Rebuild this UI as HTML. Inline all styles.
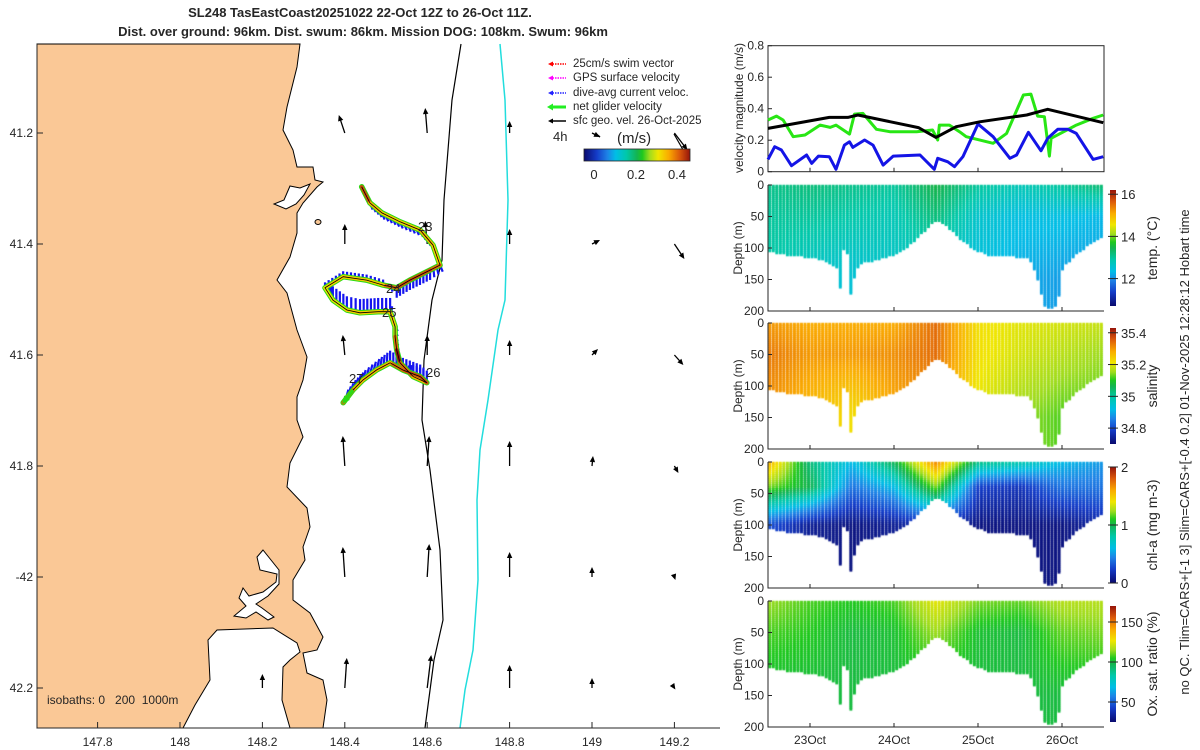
<!DOCTYPE html>
<html><head><meta charset="utf-8"><style>
body{margin:0;background:#fff;}
#root{position:relative;width:1200px;height:750px;overflow:hidden;font-family:"Liberation Sans","DejaVu Sans",sans-serif;}
svg text{font-family:"Liberation Sans","DejaVu Sans",sans-serif;fill:#262626;}
</style></head><body>
<div id="root">
<canvas id="dots" width="1200" height="750" style="position:absolute;left:0;top:0"></canvas>
<svg id="svg" width="1200" height="750" style="position:absolute;left:0;top:0" xmlns="http://www.w3.org/2000/svg">
<defs>
<linearGradient id="jetH" x1="0" x2="1" y1="0" y2="0">
<stop offset="0" stop-color="rgb(10,10,110)"/><stop offset="0.12" stop-color="rgb(20,60,200)"/><stop offset="0.22" stop-color="rgb(30,130,230)"/><stop offset="0.3" stop-color="rgb(0,190,230)"/><stop offset="0.4" stop-color="rgb(0,200,170)"/><stop offset="0.5" stop-color="rgb(20,180,80)"/><stop offset="0.55" stop-color="rgb(30,200,30)"/><stop offset="0.62" stop-color="rgb(160,220,30)"/><stop offset="0.7" stop-color="rgb(240,230,0)"/><stop offset="0.8" stop-color="rgb(250,170,0)"/><stop offset="0.9" stop-color="rgb(220,90,10)"/><stop offset="1" stop-color="rgb(150,20,10)"/>
</linearGradient>
<linearGradient id="jetV" x1="0" x2="0" y1="1" y2="0">
<stop offset="0" stop-color="rgb(10,10,110)"/><stop offset="0.12" stop-color="rgb(20,60,200)"/><stop offset="0.22" stop-color="rgb(30,130,230)"/><stop offset="0.3" stop-color="rgb(0,190,230)"/><stop offset="0.4" stop-color="rgb(0,200,170)"/><stop offset="0.5" stop-color="rgb(20,180,80)"/><stop offset="0.55" stop-color="rgb(30,200,30)"/><stop offset="0.62" stop-color="rgb(160,220,30)"/><stop offset="0.7" stop-color="rgb(240,230,0)"/><stop offset="0.8" stop-color="rgb(250,170,0)"/><stop offset="0.9" stop-color="rgb(220,90,10)"/><stop offset="1" stop-color="rgb(150,20,10)"/>
</linearGradient>
</defs>
<text x="360" y="17" text-anchor="middle" font-size="13" font-weight="bold">SL248 TasEastCoast20251022 22-Oct 12Z to 26-Oct 11Z.</text>
<text x="363" y="36" text-anchor="middle" font-size="13" font-weight="bold">Dist. over ground: 96km. Dist. swum: 86km. Mission DOG: 108km. Swum: 96km</text>
<g>
<polygon fill="#fac896" stroke="#000" stroke-width="1" points="37,44 300,44 297,67 287,107 283,130 293,150 297,167 313,167 315,180 323,182 317,187 303,203 297,213 297,233 290,257 277,280 287,293 297,330 307,357 303,380 297,397 297,420 303,437 290,463 287,487 307,508 310,527 303,547 305,560 293,580 293,600 310,613 323,637 317,650 303,653 307,673 323,680 327,700 323,728 37,728"/>
<polygon fill="#fff" stroke="#000" stroke-width="1" points="183,728 195,705 210,680 208,640 217,630 273,628 297,643 300,652 290,660 283,667 282,700 290,728"/>
<polygon fill="#fff" stroke="#000" stroke-width="1" points="263,550 257,557 260,570 277,574 276,582 263,592 249,596 243,588 239,598 246,606 234,616 246,618 256,612 268,620 274,617 262,608 256,604 268,596 279,584 279,570"/>
<polygon fill="#fff" stroke="#000" stroke-width="1" points="290,186 300,188 310,184 304,195 296,204 286,209 274,204 284,200"/>
<ellipse cx="318" cy="222" rx="3" ry="2.5" fill="#fac896" stroke="#000"/>
</g>
<polyline fill="none" stroke="#000" stroke-width="1.2" points="461,44 452,100 444,200 442,260 432,300 424,360 422,420 430,470 440,550 443,620 434,660 425,728"/>
<polyline fill="none" stroke="#22dddd" stroke-width="1.5" points="500,44 505,100 508,200 505,300 498,330 488,400 480,450 477,500 478,580 473,650 465,690 460,728"/>
<g id="mapArrows"></g>
<g id="track"></g>
<g font-size="13">
<text x="418" y="231">23</text><text x="386" y="293">24</text><text x="382" y="317">25</text><text x="426" y="377">26</text><text x="349" y="383">27</text>
</g>
<g stroke="#262626" stroke-width="1">
<line x1="37" y1="44" x2="37" y2="728"/><line x1="37" y1="728" x2="720" y2="728"/>
</g>
<g id="mapTicks" font-size="12"></g>
<text x="47" y="704" font-size="12" xml:space="preserve">isobaths: 0   200  1000m</text>
<g font-size="11.5">
<g><line x1="550" y1="64" x2="566" y2="64" stroke="#f00" stroke-width="1.5" stroke-dasharray="1.5 1"/><polygon points="548,64 553,61.5 553,66.5" fill="#f00"/><text x="573" y="67">25cm/s swim vector</text></g>
<g><line x1="550" y1="78" x2="566" y2="78" stroke="#f0f" stroke-width="1.5" stroke-dasharray="1.5 1"/><polygon points="548,78 553,75.5 553,80.5" fill="#f0f"/><text x="573" y="81">GPS surface velocity</text></g>
<g><line x1="550" y1="93" x2="566" y2="93" stroke="#22f" stroke-width="1.5" stroke-dasharray="1.5 1"/><polygon points="548,93 553,90.5 553,95.5" fill="#22f"/><text x="573" y="96">dive-avg current veloc.</text></g>
<g><line x1="551" y1="107" x2="566" y2="107" stroke="#2e2" stroke-width="3"/><polygon points="547,107 553,103.5 553,110.5" fill="#2e2"/><text x="573" y="110">net glider velocity</text></g>
<g><line x1="551" y1="121" x2="566" y2="121" stroke="#000" stroke-width="1.5"/><polygon points="548,121 553,118.5 553,123.5" fill="#000"/><text x="573" y="124">sfc geo. vel. 26-Oct-2025</text></g>
<text x="553" y="141" font-size="13">4h</text>
<line x1="596" y1="134" x2="600" y2="137" stroke="#000" stroke-width="1.5"/>
<text x="617" y="143" font-size="15">(m/s)</text>
<line x1="674" y1="134" x2="686" y2="155" stroke="#000" stroke-width="1.2"/>
<polygon points="688,158 682,150 687,148" fill="#000"/>
<rect x="584" y="149" width="106" height="12" fill="url(#jetH)" stroke="#262626" stroke-width="0.8"/>
<text x="594" y="179" font-size="13" text-anchor="middle">0</text><text x="636" y="179" font-size="13" text-anchor="middle">0.2</text><text x="677" y="179" font-size="13" text-anchor="middle">0.4</text>
</g>
<g id="velChart">
<rect x="768" y="45.7" width="336" height="126" fill="none" stroke="#262626" stroke-width="1"/>
</g>
<text transform="translate(743,108) rotate(-90)" text-anchor="middle" font-size="12">velocity magnitude (m/s)</text>
<g id="panels"></g>
<text transform="translate(1189,452) rotate(-90)" text-anchor="middle" font-size="13">no QC. Tlim=CARS+[-1 3] Slim=CARS+[-0.4 0.2] 01-Nov-2025 12:28:12 Hobart time</text>
</svg>
</div>
<script>
// ---------- velocity chart data ----------
const greenDays=[22.50,22.60,22.68,22.80,22.94,23.12,23.24,23.31,23.47,23.53,23.63,23.79,23.95,24.27,24.46,24.52,24.54,24.66,24.78,24.86,25.18,25.34,25.54,25.63,25.71,25.79,25.85,25.87,26.17,26.37,26.49];
const greenVals=[0.328,0.353,0.328,0.222,0.233,0.296,0.281,0.296,0.239,0.366,0.370,0.269,0.254,0.254,0.265,0.201,0.296,0.296,0.254,0.222,0.180,0.243,0.487,0.493,0.353,0.349,0.099,0.212,0.296,0.339,0.360];
const blueDays=[22.50,22.58,22.66,22.78,22.96,23.02,23.10,23.23,23.31,23.41,23.47,23.51,23.65,23.75,23.87,23.99,24.31,24.48,24.52,24.64,24.72,24.82,25.00,25.18,25.38,25.46,25.60,25.75,25.83,25.95,26.07,26.17,26.37,26.49];
const blueVals=[0.078,0.159,0.138,0.038,0.106,0.053,0.099,0.095,0.015,0.169,0.190,0.154,0.201,0.169,0.042,0.099,0.106,0.015,0.085,0.063,0.032,0.095,0.303,0.222,0.085,0.106,0.250,0.133,0.212,0.269,0.269,0.243,0.078,0.095];
const blackDays=[22.50,23.23,23.45,23.57,24.29,24.50,24.74,25.02,25.58,25.83,26.49];
const blackVals=[0.275,0.345,0.345,0.360,0.280,0.218,0.286,0.317,0.360,0.396,0.311];
const velTicks=[0,0.2,0.4,0.6,0.8];
// ---------- profile section data ----------
const dayTicks=[23,24,25,26];
const dayTickLabels=["23Oct","24Oct","25Oct","26Oct"];
const depthKeyDays=[22.5,22.64,22.85,23.12,23.24,23.32,23.36,23.42,23.49,23.54,23.60,23.83,24.04,24.19,24.35,24.51,24.67,24.82,24.99,25.14,25.42,25.62,25.71,25.80,25.88,25.95,26.01,26.18,26.33,26.49];
const depthKeyMax=[105,110,112,118,125,132,165,75,178,140,125,118,110,95,75,55,70,90,105,112,113,118,150,195,195,190,130,110,95,80];
const fieldDays=[22.5,23.0,23.5,24.0,24.5,25.0,25.5,26.0,26.5];
const tempSurf=[13.1,13.2,13.1,13.0,13.5,13.0,12.8,13.0,13.3];
const tempMid=[13.0,13.0,12.9,12.8,13.2,12.6,12.4,12.4,12.3];
const tempDeep=[12.9,12.6,12.5,12.6,12.6,12.4,12.2,12.1,12.1];
const salSurf=[35.30,35.28,35.28,35.28,35.34,35.22,35.20,35.19,35.18];
const salMid=[35.33,35.30,35.30,35.31,35.34,35.22,35.19,35.17,35.15];
const salDeep=[35.30,35.26,35.22,35.28,35.30,35.20,35.15,35.12,35.12];
const chlSurf=[1.6,0.9,0.6,1.0,1.7,0.9,0.8,0.6,0.5];
const chlMid=[1.2,1.0,0.4,0.6,1.2,0.25,0.2,0.4,0.4];
const chlDeep=[0.3,0.1,0.05,0.1,0.2,0.05,0.05,0.05,0.15];
const oxSurf=[115,108,105,108,125,112,110,118,118];
const oxMid=[108,105,100,102,115,102,100,110,112];
const oxDeep=[100,100,100,100,100,100,100,100,100];
// ---------- map data ----------
const lonTicks=[147.8,148,148.2,148.4,148.6,148.8,149,149.2];
const latTicks=[41.2,41.4,41.6,41.8,42.0,42.2];
const latTickLabels=["41.2","41.4","41.6","41.8","-42","42.2"];
const arrowLon=[148.4,148.6,148.8,149,149.2, 148.4,148.6,148.8,149,149.2, 148.4,148.6,148.8,149,149.2, 148.4,148.6,148.8,149,149.2, 148.4,148.6,148.8,149,149.2, 148.2,148.4,148.6,148.8,149,149.2];
const arrowLat=[41.2,41.2,41.2,41.2,41.2, 41.4,41.4,41.4,41.4,41.4, 41.6,41.6,41.6,41.6,41.6, 41.8,41.8,41.8,41.8,41.8, 42.0,42.0,42.0,42.0,42.0, 42.2,42.2,42.2,42.2,42.2,42.2];
const arrowU=[-0.06,-0.02,0,0.08,0.13, 0,-0.02,0,0.08,0.1, -0.02,0,0,0.06,0.09, -0.02,0.02,0,0.01,0.04, -0.02,0.02,0,0,0.01, 0,0.02,0.04,0,0,0.01];
const arrowV=[0.18,0.25,0.12,-0.04,-0.17, 0.2,0.23,0.15,0.04,-0.15, 0.2,0.2,0.15,0.06,-0.1, 0.3,0.3,0.25,0.1,-0.07, 0.3,0.33,0.25,0.1,-0.03, 0.14,0.3,0.33,0.23,0.1,-0.015];
const trackLon=[148.441,148.461,148.490,148.534,148.583,148.614,148.631,148.607,148.558,148.526,148.493,148.453,148.396,148.352,148.371,148.405,148.437,148.481,148.510,148.522,148.522,148.526,148.534,148.566,148.599,148.583,148.541,148.510,148.477,148.444,148.420,148.396];
const trackLat=[41.297,41.326,41.344,41.360,41.375,41.402,41.438,41.447,41.465,41.479,41.474,41.465,41.459,41.479,41.501,41.519,41.524,41.522,41.522,41.549,41.567,41.591,41.614,41.639,41.650,41.639,41.627,41.614,41.627,41.645,41.663,41.686];
const trackSpeed=[0.42,0.35,0.33,0.33,0.35,0.33,0.4,0.42,0.42,0.4,0.33,0.33,0.33,0.3,0.3,0.33,0.33,0.33,0.33,0.28,0.4,0.48,0.4,0.35,0.42,0.42,0.4,0.35,0.35,0.35,0.4,0.35];
const curU=[0.05,0.05,0.05,0.05,0.05,0.05,0.05, 0,0,0, 0,0,0,0, 0,0,0,0,0, 0.05,0.05,0.05,0.05, 0,0,0,0,0,0.05,0.05,0.05,0.05];
const curV=[-0.12,-0.12,-0.12,-0.12,-0.12,-0.12,-0.12, -0.18,-0.18,-0.18, 0.1,0.1,0.1,0.1, 0.25,0.25,0.25,0.25,0.25, -0.08,-0.08,-0.08,-0.08, 0.22,0.22,0.22,0.22,0.22,0.2,0.18,0.18,0.18];

const NS="http://www.w3.org/2000/svg";
function mk(tag,attrs,parent,txt){const e=document.createElementNS(NS,tag);for(const k in attrs)e.setAttribute(k,attrs[k]);if(txt!==undefined)e.textContent=txt;parent.appendChild(e);return e;}
const stops=[[0,10,10,110],[0.12,20,60,200],[0.22,30,130,230],[0.3,0,190,230],[0.4,0,200,170],[0.5,20,180,80],[0.55,30,200,30],[0.62,160,220,30],[0.7,240,230,0],[0.8,250,170,0],[0.9,220,90,10],[1,150,20,10]];
function cmap(t){t=Math.max(0,Math.min(1,t));for(let i=1;i<stops.length;i++){if(t<=stops[i][0]){const a=stops[i-1],b=stops[i];const f=(t-a[0])/(b[0]-a[0]);return `rgb(${Math.round(a[1]+f*(b[1]-a[1]))},${Math.round(a[2]+f*(b[2]-a[2]))},${Math.round(a[3]+f*(b[3]-a[3]))})`;}}return 'rgb(150,20,10)';}
function interp(xs,ys,x){if(x<=xs[0])return ys[0];for(let i=1;i<xs.length;i++){if(x<=xs[i]){const f=(x-xs[i-1])/(xs[i]-xs[i-1]);return ys[i-1]+f*(ys[i]-ys[i-1]);}}return ys[ys.length-1];}

const X0=768,X1=1104,D0=22.5,D1=26.5;
const xDay=d=>X0+(d-D0)/(D1-D0)*(X1-X0);
const yVel=v=>171.7-v/0.8*126;
const xLon=lon=>180+(lon-148)*412;
const yLat=lat=>133+(lat-41.2)*555;

const vc=document.getElementById('velChart');
velTicks.forEach(v=>{
  const t=mk('text',{x:764,y:yVel(v)+4,'text-anchor':'end','font-size':12},vc,String(v));
  
  
  const l=mk('line',{x1:768,x2:772,y1:yVel(v),y2:yVel(v),stroke:'#262626'},vc);
  
  
});
dayTicks.forEach(d=>{
  const l=mk('line',{x1:xDay(d),x2:xDay(d),y1:171.7,y2:167.7,stroke:'#262626'},vc);
  
  
});
function series(days,vals,color,name){
  const pts=days.map((d,i)=>xDay(d).toFixed(1)+','+yVel(vals[i]).toFixed(1)).join(' ');
  const p=mk('polyline',{points:pts,fill:'none',stroke:color,'stroke-width':3,'stroke-linejoin':'round'},vc);
  
  
}
series(greenDays,greenVals,'rgb(40,230,20)','net-glider-speed-line');
series(blueDays,blueVals,'rgb(20,20,230)','dive-avg-current-line');
series(blackDays,blackVals,'#000','sfc-geo-velocity-line');

const panels=[
 {top:185,name:'temperature',surf:tempSurf,mid:tempMid,deep:tempDeep,mids:50,deeps:150,min:10.7,max:16.2,ticks:[12,14,16],tl:['12','14','16'],label:'temp. (°C)'},
 {top:323,name:'salinity',surf:salSurf,mid:salMid,deep:salDeep,mids:50,deeps:150,min:34.7,max:35.43,ticks:[34.8,35,35.2,35.4],tl:['34.8','35','35.2','35.4'],label:'salinity'},
 {top:462,name:'chlorophyll',surf:chlSurf,mid:chlMid,deep:chlDeep,mids:40,deeps:100,min:0,max:2,ticks:[0,1,2],tl:['0','1','2'],label:'chl-a (mg m-3)'},
 {top:601,name:'oxygen',surf:oxSurf,mid:oxMid,deep:oxDeep,mids:50,deeps:150,min:25,max:170,ticks:[50,100,150],tl:['50','100','150'],label:'Ox. sat. ratio (%)'}
];
const PH=126;
const ctx=document.getElementById('dots').getContext('2d');
const pg=document.getElementById('panels');
panels.forEach((P,pi)=>{
  const yDep=dep=>P.top+dep/200*PH;
  for(let d=D0+0.02; d<D1; d+=0.042){
    const maxD=interp(depthKeyDays,depthKeyMax,d);
    const s=interp(fieldDays,P.surf,d),m=interp(fieldDays,P.mid,d),dp=interp(fieldDays,P.deep,d);
    for(let z=2; z<=maxD; z+=3.2){
      const v= z<P.mids ? s+(m-s)*z/P.mids : m+(dp-m)*Math.min(1,(z-P.mids)/(P.deeps-P.mids));
      ctx.fillStyle=cmap((v-P.min)/(P.max-P.min));
      ctx.fillRect(xDay(d)-1.4,yDep(z)-1.5,2.9,3);
    }
  }
  const g=mk('g',{},pg);
  
  
  const ax=mk('path',{d:`M768,${P.top} L768,${P.top+PH} L1104,${P.top+PH}`,fill:'none',stroke:'#262626'},g);
  
  
  [0,50,100,150,200].forEach(dep=>{
    const t=mk('text',{x:764,y:yDep(dep)+4,'text-anchor':'end','font-size':12},g,String(dep));
    
    
    const l=mk('line',{x1:768,x2:772,y1:yDep(dep),y2:yDep(dep),stroke:'#262626'},g);
    
    
  });
  dayTicks.forEach(d=>{
    const l=mk('line',{x1:xDay(d),x2:xDay(d),y1:P.top+PH,y2:P.top+PH-4,stroke:'#262626'},g);
    
    
  });
  const yt=mk('text',{transform:`translate(742,${P.top+63}) rotate(-90)`,'text-anchor':'middle','font-size':12},g,'Depth (m)');
  
  
  const cbTop=P.top+5,cbH=PH-10;
  const cb=mk('rect',{x:1110,y:cbTop,width:6,height:cbH,fill:'url(#jetV)'},g);
  
  
  P.ticks.forEach((tv,i)=>{
    const yy=cbTop+cbH*(1-(tv-P.min)/(P.max-P.min));
    const t=mk('text',{x:1121,y:yy+5,'font-size':13},g,P.tl[i]);
    
    
    const l=mk('line',{x1:1108,x2:1118,y1:yy,y2:yy,stroke:'#262626'},g);
    
    
  });
  const cl=mk('text',{transform:`translate(1157,${P.top+63}) rotate(-90)`,'text-anchor':'middle','font-size':14},g,P.label);
  
  
});
dayTicks.forEach((d,i)=>{
  const t=mk('text',{x:xDay(d),y:744,'text-anchor':'middle','font-size':12},pg,dayTickLabels[i]);
  
  
});

const mt=document.getElementById('mapTicks');
lonTicks.forEach(lo=>{
  const t=mk('text',{x:xLon(lo),y:746,'text-anchor':'middle'},mt,String(lo));
  
  
  const l=mk('line',{x1:xLon(lo),x2:xLon(lo),y1:728,y2:722,stroke:'#262626'},mt);
  
  
});
latTicks.forEach((la,i)=>{
  const t=mk('text',{x:33,y:yLat(la)+4,'text-anchor':'end'},mt,latTickLabels[i]);
  
  
  const l=mk('line',{x1:37,x2:43,y1:yLat(la),y2:yLat(la),stroke:'#262626'},mt);
  
  
});

function arrow(parent,x,y,dx,dy,color,w,head){
  const L=Math.hypot(dx,dy); if(L<0.5)return null;
  const ux=dx/L,uy=dy/L;
  const g=mk('g',{},parent);
  mk('line',{x1:x,y1:y,x2:x+dx-ux*head*0.6,y2:y+dy-uy*head*0.6,stroke:color,'stroke-width':w},g);
  const tx=x+dx,ty=y+dy,bx=tx-ux*head,by=ty-uy*head;
  mk('polygon',{points:`${tx},${ty} ${bx-uy*head*0.45},${by+ux*head*0.45} ${bx+uy*head*0.45},${by-ux*head*0.45}`,fill:color},g);
  return g;
}
const ma=document.getElementById('mapArrows');
const SC=100;
arrowLon.forEach((lo,i)=>{
  const a=arrow(ma,xLon(lo),yLat(arrowLat[i]),arrowU[i]*SC,-arrowV[i]*SC,'#000',1.3,6);
  if(a){
  }
});

const tr=document.getElementById('track');
const tx=trackLon.map(xLon),ty=trackLat.map(yLat);
const CS=55;
for(let i=0;i<tx.length-1;i++){
  const segs=Math.max(1,Math.round(Math.hypot(tx[i+1]-tx[i],ty[i+1]-ty[i])/4));
  for(let s=0;s<segs;s++){
    const f=s/segs,x=tx[i]+f*(tx[i+1]-tx[i]),y=ty[i]+f*(ty[i+1]-ty[i]);
    const u=curU[i]+f*(curU[i+1]-curU[i]),v=curV[i]+f*(curV[i+1]-curV[i]);
    const l=mk('line',{x1:x,y1:y,x2:x+u*CS,y2:y-v*CS,stroke:'rgb(20,20,240)','stroke-width':2.2},tr);
    
    
  }
}
const tp=tx.map((x,i)=>x.toFixed(1)+','+ty[i].toFixed(1)).join(' ');
const gl=mk('polyline',{points:tp,fill:'none',stroke:'rgb(40,220,20)','stroke-width':5.5,'stroke-linejoin':'round','stroke-linecap':'round'},tr);


for(let i=0;i<tx.length-1;i++){
  const sg=mk('line',{x1:tx[i],y1:ty[i],x2:tx[i+1],y2:ty[i+1],stroke:cmap((trackSpeed[i]+0.05)/0.51),'stroke-width':3.5,'stroke-linecap':'round'},tr);
  
  
}
const bl=mk('polyline',{points:tp,fill:'none',stroke:'#000','stroke-width':0.8},tr);


const n=tx.length-1;
const ea=arrow(tr,tx[n-1],ty[n-1],(tx[n]-tx[n-1])*1.1,(ty[n]-ty[n-1])*1.1,'rgb(40,220,20)',3,8);


</script>
</body></html>
